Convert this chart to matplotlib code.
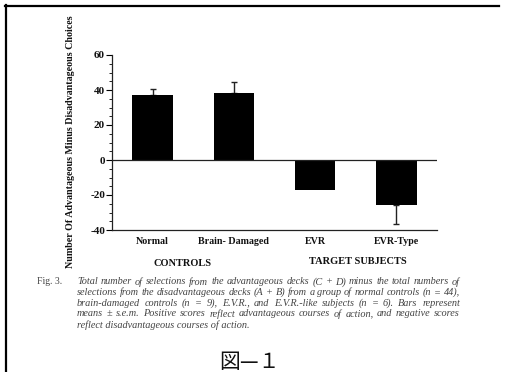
import matplotlib
matplotlib.use("Agg")
import matplotlib.pyplot as plt
from matplotlib.lines import Line2D
from matplotlib.ticker import MultipleLocator

plt.rcParams["axes.unicode_minus"] = False

categories = ["Normal", "Brain- Damaged", "EVR", "EVR-Type"]
values = [37, 38.5, -17, -25.5]
errors = [3.3, 6.3, 0, 11]
groups = ["CONTROLS", "TARGET SUBJECTS"]
ylabel = "Number Of Advantageous Minus Disadvantageous Choices"
caption_head = "Fig. 3."
caption_lines = [
    "Total number of selections from the advantageous decks (C + D) minus the total numbers of",
    "selections from the disadvantageous decks (A + B) from a group of normal controls (n = 44),",
    "brain-damaged controls (n = 9), E.V.R., and E.V.R.-like subjects (n = 6). Bars represent",
    "means \u00b1 s.e.m. Positive scores reflect advantageous courses of action, and negative scores",
    "reflect disadvantageous courses of action.",
]
figure_label = "\u56f3\u2014\uff11"

W, H = 508, 372
fig = plt.figure(figsize=(W / 100, H / 100), dpi=100)
fig.patch.set_facecolor("white")

def fx(px):
    return px / W

def fy(py):
    return 1 - py / H

serif = "Liberation Serif"

ax = fig.add_axes([fx(112), fy(230), fx(437) - fx(112), fy(55) - fy(230)])
x = list(range(len(categories)))
ax.bar(x, values, width=0.5, color="black", zorder=2)
ex = [xi for xi, e in zip(x, errors) if e > 0]
ev = [v for v, e in zip(values, errors) if e > 0]
lower = [e if v < 0 else 0 for v, e in zip(values, errors) if e > 0]
upper = [e if v >= 0 else 0 for v, e in zip(values, errors) if e > 0]
ax.errorbar(ex, ev, yerr=[lower, upper], fmt="none", ecolor="#222222",
            elinewidth=1, capsize=2, capthick=1, zorder=1)
ax.axhline(0, color="#222222", lw=0.9, zorder=3)
ax.set_xlim(-0.5, 3.5)
ax.set_ylim(-40, 60)
ax.yaxis.set_major_locator(MultipleLocator(20))
ax.yaxis.set_minor_locator(MultipleLocator(5))
ax.spines["top"].set_visible(False)
ax.spines["right"].set_visible(False)
for s in ("left", "bottom"):
    ax.spines[s].set_linewidth(0.9)
    ax.spines[s].set_color("#222222")
ax.tick_params(axis="y", which="major", length=4, width=0.8, pad=1,
               labelsize=8, direction="out")
ax.tick_params(axis="y", which="minor", length=2, width=0.6)
ax.tick_params(axis="x", length=0, pad=5, labelsize=7.2)
ax.set_xticks(x)
ax.set_xticklabels(categories)
for lab in ax.get_xticklabels() + ax.get_yticklabels():
    lab.set_fontfamily(serif)
    lab.set_fontweight("bold")
    lab.set_color("#111111")

# group labels
fig.text(fx(183), fy(263), groups[0], ha="center", va="center",
         family=serif, weight="bold", fontsize=7.5, color="#111111")
fig.text(fx(358), fy(262), groups[1], ha="center", va="center",
         family=serif, weight="bold", fontsize=7.5, color="#111111")

# y label
fig.text(fx(71), fy(142), ylabel, rotation=90, ha="center", va="center",
         family=serif, weight="bold", fontsize=7.2, color="#111111")

# caption
fig.text(fx(37), fy(282), caption_head, ha="left", va="center",
         family=serif, fontsize=7, color="#444444")

fig.canvas.draw()
renderer = fig.canvas.get_renderer()
left_px, right_px = 77, 460
line_y = [282, 292.5, 303, 314, 325]
cap_fs = 7.4
for i, line in enumerate(caption_lines):
    words = line.split(" ")
    y = fy(line_y[i])
    if i == len(caption_lines) - 1:
        fig.text(fx(left_px), y, line, ha="left", va="center", family=serif,
                 style="italic", fontsize=cap_fs, color="#444444")
        continue
    widths = []
    for w in words:
        t = fig.text(0, 0, w, family=serif, style="italic", fontsize=cap_fs)
        widths.append(t.get_window_extent(renderer).width)
        t.remove()
    gap = (right_px - left_px - sum(widths)) / (len(words) - 1)
    pos = left_px
    for w, wd in zip(words, widths):
        fig.text(fx(pos), y, w, ha="left", va="center", family=serif,
                 style="italic", fontsize=cap_fs, color="#444444")
        pos += wd + gap

# figure label
fig.text(fx(249), fy(362), figure_label, ha="center", va="center",
         family=["Noto Sans CJK JP", "DejaVu Sans"], fontsize=15, color="#111111")

# outer frame (top and left lines)
fig.add_artist(Line2D([fx(5), fx(499)], [fy(5.5), fy(5.5)], color="black", lw=1.6))
fig.add_artist(Line2D([fx(5.5), fx(5.5)], [fy(5), fy(372)], color="black", lw=1.6))

fig.savefig("out.png", dpi=100, facecolor="white")
